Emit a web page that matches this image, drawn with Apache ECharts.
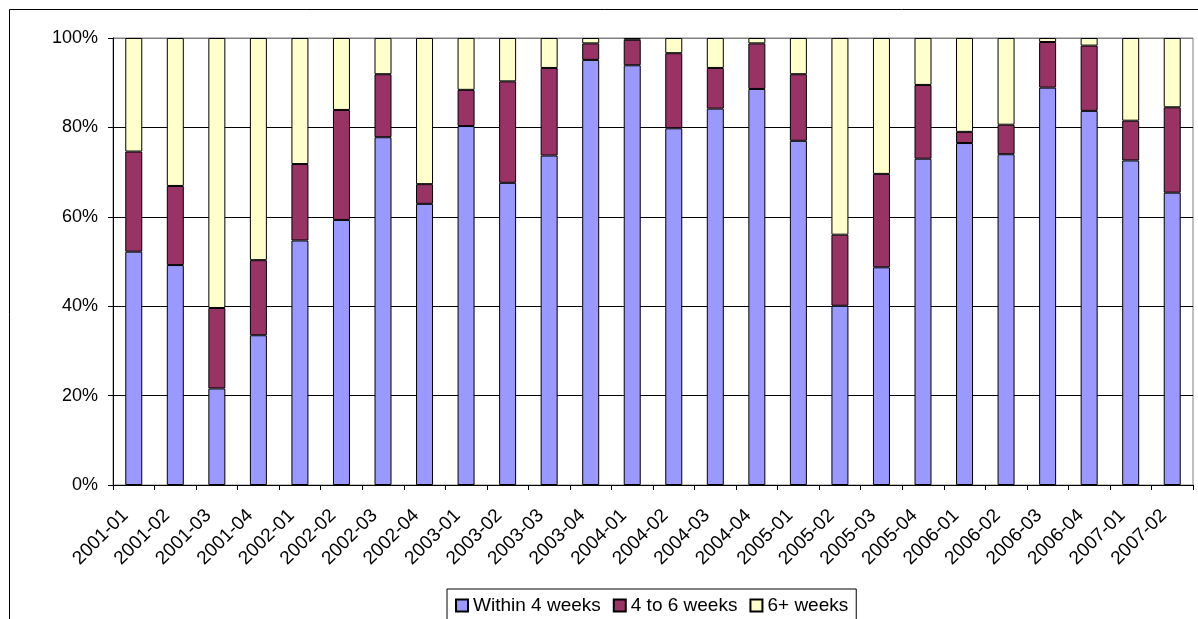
<!DOCTYPE html>
<html>
<head>
<meta charset="utf-8">
<script src="https://cdn.jsdelivr.net/npm/echarts@6/dist/echarts.min.js"></script>
<style>
html,body{margin:0;padding:0;background:#fff;}
#chart{width:1198px;height:619px;}
</style>
</head>
<body>
<div id="chart"></div>
<script>
const categories = ['2001-01','2001-02','2001-03','2001-04','2002-01','2002-02','2002-03','2002-04','2003-01','2003-02','2003-03','2003-04','2004-01','2004-02','2004-03','2004-04','2005-01','2005-02','2005-03','2005-04','2006-01','2006-02','2006-03','2006-04','2007-01','2007-02'];
const within4 = [52.2,49.2,21.6,33.5,54.7,59.3,77.8,62.9,80.3,67.6,73.7,95.1,93.9,79.8,84.2,88.6,77.0,40.1,48.7,73.0,76.5,74.0,88.9,83.7,72.6,65.4];
const weeks4to6 = [22.4,17.7,18.0,16.8,17.1,24.6,14.1,4.4,8.1,22.7,19.6,3.7,5.7,16.8,9.1,10.2,14.9,15.9,20.9,16.5,2.5,6.6,10.2,14.6,8.9,19.1];
const weeks6plus = [25.4,33.1,60.4,49.7,28.2,16.1,8.1,32.7,11.6,9.7,6.7,1.2,0.4,3.4,6.7,1.2,8.1,44.0,30.4,10.5,21.0,19.4,0.9,1.7,18.5,15.5];
const yTicks = [0,20,40,60,80,100];

const font = 'Arial, "Liberation Sans", sans-serif';
const chart = echarts.init(document.getElementById('chart'), null, {renderer:'canvas'});
function bar(name, data, color){
  return {
    name: name, type: 'bar', stack: 'total', data: data, barWidth: 17,
    itemStyle: {color: color, borderColor: '#000', borderWidth: 1},
    emphasis: {disabled: true}
  };
}
chart.setOption({
  animation: false,
  backgroundColor: '#fff',
  textStyle: {fontFamily: font},
  graphic: [{
    type: 'rect', shape: {x: 9.5, y: 9.5, width: 1400, height: 800},
    style: {fill: 'none', stroke: '#000', lineWidth: 1}, silent: true, z: -1
  }],
  grid: {left: 113, right: 5, top: 38, bottom: 134, show: true, borderColor: '#808080', borderWidth: 1},
  legend: {
    top: 589, left: 447,
    data: ['Within 4 weeks','4 to 6 weeks','6+ weeks'],
    icon: 'rect', itemWidth: 12, itemHeight: 12, itemGap: 12,
    borderColor: '#000', borderWidth: 1, padding: [7, 8, 12, 8],
    textStyle: {fontSize: 19, color: '#000', fontFamily: font},
    selectedMode: false
  },
  xAxis: {
    type: 'category', data: categories,
    axisLine: {lineStyle: {color: '#000', width: 1}},
    axisTick: {show: true, length: 5, lineStyle: {color: '#000'}},
    axisLabel: {rotate: 45, fontSize: 19, color: '#000', margin: 19, padding: [0, 12, 0, 0], interval: 0, fontFamily: font},
    splitLine: {show: false}
  },
  yAxis: {
    type: 'value', min: yTicks[0], max: yTicks[yTicks.length-1], interval: 20,
    axisLine: {show: true, lineStyle: {color: '#000', width: 1}},
    axisTick: {show: true, length: 5, lineStyle: {color: '#000'}},
    axisLabel: {formatter: '{value}%', fontSize: 18, color: '#000', margin: 15, fontFamily: font},
    splitLine: {show: true, lineStyle: {color: ['#000','#000','#000','#000','#000','#808080'], width: 1}}
  },
  series: [
    bar('Within 4 weeks', within4, '#9999FF'),
    bar('4 to 6 weeks', weeks4to6, '#993366'),
    bar('6+ weeks', weeks6plus, '#FFFFCC')
  ]
});
</script>
</body>
</html>
